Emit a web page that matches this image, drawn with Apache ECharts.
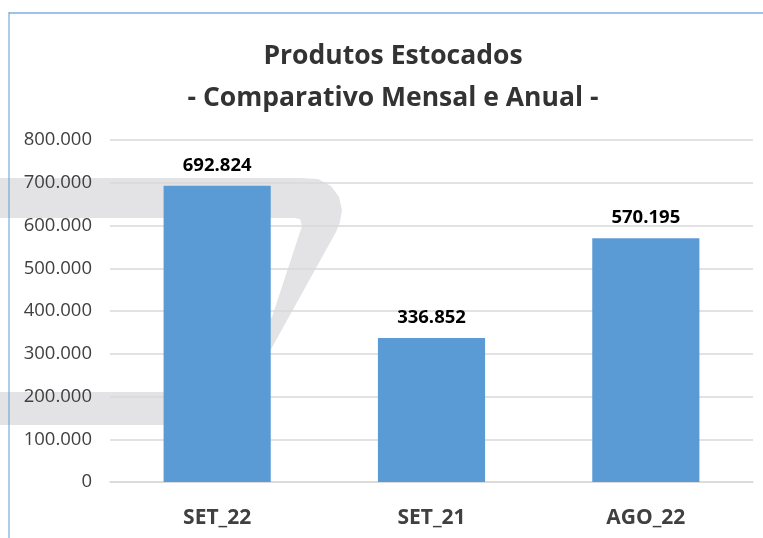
<!DOCTYPE html>
<html>
<head>
<meta charset="utf-8">
<script src="https://cdn.jsdelivr.net/npm/echarts@6/dist/echarts.min.js"></script>
<style>
  html, body { margin: 0; padding: 0; background: #fff; }
  #main { width: 763px; height: 538px; }
</style>
</head>
<body>
<div id="main"></div>
<script>
// dados do gráfico
var categorias = ['SET_22', 'SET_21', 'AGO_22'];
var estoque = [692824, 336852, 570195];
var yTicks = [0, 100000, 200000, 300000, 400000, 500000, 600000, 700000, 800000];

function fmtBR(v) {
    return String(v).replace(/\B(?=(\d{3})+(?!\d))/g, '.');
}

var fonte = '"Open Sans", "Noto Sans", sans-serif';

var myChart = echarts.init(document.getElementById('main'));
myChart.setOption({
    animation: false,
    backgroundColor: '#fff',
    title: {
        text: 'Produtos Estocados\n- Comparativo Mensal e Anual -',
        left: 388,
        top: 30,
        textAlign: 'center',
        textStyle: {
            fontFamily: fonte,
            fontSize: 26.5,
            fontWeight: 'bold',
            color: '#333',
            lineHeight: 42,
            align: 'center'
        }
    },
    grid: { left: 110, right: 10, top: 140, bottom: 56 },
    xAxis: {
        type: 'category',
        data: categorias,
        axisLine: { lineStyle: { color: '#d9d9d9', width: 1.5 } },
        axisTick: { length: 8, lineStyle: { color: '#d9d9d9', width: 1.5 } },
        axisLabel: {
            margin: 26,
            fontFamily: fonte,
            fontSize: 21,
            fontWeight: 'bold',
            color: '#404040'
        }
    },
    yAxis: {
        type: 'value',
        min: yTicks[0],
        max: yTicks[yTicks.length - 1],
        interval: 100000,
        axisLine: { show: false },
        axisTick: { show: false },
        splitLine: { lineStyle: { color: '#d9d9d9', width: 1.5 } },
        axisLabel: {
            margin: 18,
            fontFamily: fonte,
            fontSize: 18.5,
            color: '#404040',
            formatter: fmtBR
        }
    },
    graphic: [
        // marca d'água cinza ao fundo
        {
            type: 'polygon',
            z: -10,
            silent: true,
            shape: {
                points: [[0,178],[300,178],[318,179],[331,186],[339,197],[342,210],[340,222],[336,232],
                         [265,360],[230,425],[0,425],[0,392],[200,392],[272,317],[302,226],[300,219],
                         [294,218],[0,218]]
            },
            style: { fill: '#e3e3e5' }
        },
        // bordas
        { type: 'line', z: 10, shape: { x1: 9, y1: 13, x2: 763, y2: 13 }, style: { stroke: '#9dc3e6', lineWidth: 2 } },
        { type: 'line', z: 10, shape: { x1: 9, y1: 12, x2: 9, y2: 538 }, style: { stroke: '#5b9bd5', lineWidth: 1 } }
    ],
    series: [{
        type: 'bar',
        data: estoque,
        barCategoryGap: '50%',
        itemStyle: { color: '#5b9bd5' },
        label: {
            show: true,
            position: 'top',
            distance: 11,
            fontFamily: fonte,
            fontSize: 18.5,
            fontWeight: 'bold',
            color: '#000',
            formatter: function (p) { return fmtBR(p.value); }
        }
    }]
});
</script>
</body>
</html>
